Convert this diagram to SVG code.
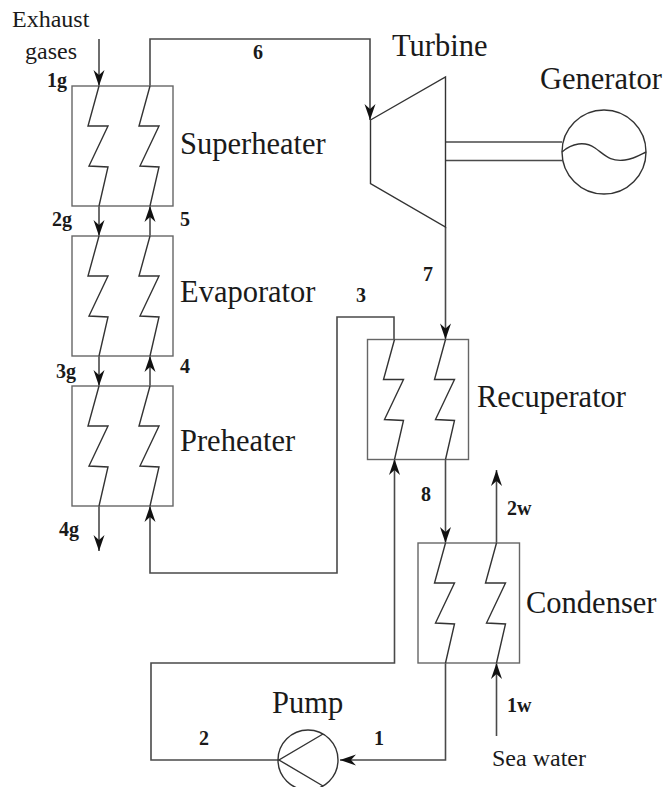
<svg xmlns="http://www.w3.org/2000/svg" width="666" height="787" viewBox="0 0 666 787">
<style>
.bg{fill:#fff}
.box{fill:none;stroke:#666;stroke-width:1.4}
.zig,.eq{fill:none;stroke:#333;stroke-width:1.4;stroke-linejoin:miter}
.pipe{fill:none;stroke:#4a4a4a;stroke-width:1.6}
.arr{marker-end:url(#ah)}
text{font-family:"Liberation Serif","Times New Roman",serif;fill:#1a1a1a}
.name{font-size:30.500px}
.small{font-size:24px}
.lab{font-size:20px;font-weight:bold}
</style>
<defs>
<marker id="ah" markerUnits="userSpaceOnUse" markerWidth="20" markerHeight="16" refX="16" refY="8" orient="auto" overflow="visible">
<path d="M16,8 L0,2.500 L5,8 L0,13.500 Z" fill="#111"/>
</marker>
<path id="zigzag" d="M0,0 L-11,40 L9,40 L-10,80 L9,81 L0,120"/>
</defs>
<rect class="bg" width="666" height="787"/>

<g id="connectors">
<path class="pipe arr" d="M99,39 V86"/>
<path class="pipe arr" d="M150,86 V39 H370 V120"/>
<path class="pipe arr" d="M99,206 V236"/>
<path class="pipe arr" d="M150,236 V206"/>
<path class="pipe arr" d="M99,356 V386"/>
<path class="pipe arr" d="M150,386 V356"/>
<path class="pipe arr" d="M99,506 V551"/>
<path class="pipe arr" d="M394,339.5 V317 H337 V573 H150 V506"/>
<path class="pipe arr" d="M445.5,227 V339.5"/>
<path class="pipe arr" d="M445.5,459 V543"/>
<path class="pipe arr" d="M445.5,663 V760 H340"/>
<path class="pipe arr" d="M279,760 H151 V663 H394.500 V459"/>
<path class="pipe arr" d="M496.500,543 V470"/>
<path class="pipe arr" d="M496.500,736 V663"/>
<path class="pipe" d="M446,142 H562 M446,160.500 H562"/>
</g>

<g id="superheater">
<rect class="box" x="72" y="86" width="101" height="120"/>
<use href="#zigzag" class="zig" x="99" y="86"/>
<use href="#zigzag" class="zig" x="150" y="86"/>
<text class="name" x="180" y="154">Superheater</text>
</g>
<g id="evaporator">
<rect class="box" x="72" y="236" width="101" height="120"/>
<use href="#zigzag" class="zig" x="99" y="236"/>
<use href="#zigzag" class="zig" x="150" y="236"/>
<text class="name" x="180" y="302">Evaporator</text>
</g>
<g id="preheater">
<rect class="box" x="72" y="386" width="101" height="120"/>
<use href="#zigzag" class="zig" x="99" y="386"/>
<use href="#zigzag" class="zig" x="150" y="386"/>
<text class="name" x="180" y="451">Preheater</text>
</g>
<g id="recuperator">
<rect class="box" x="367.500" y="339.500" width="101" height="120"/>
<use href="#zigzag" class="zig" x="394.500" y="339.500"/>
<use href="#zigzag" class="zig" x="445.500" y="339.500"/>
<text class="name" x="477" y="407">Recuperator</text>
</g>
<g id="condenser">
<rect class="box" x="418" y="543" width="101.500" height="120"/>
<use href="#zigzag" class="zig" x="445.500" y="543"/>
<use href="#zigzag" class="zig" x="496.500" y="543"/>
<text class="name" x="526" y="613">Condenser</text>
</g>
<g id="turbine">
<path class="eq" d="M370.500,120 L445.500,77 V227 L370.500,183.500 Z"/>
<text class="name" x="392" y="56">Turbine</text>
</g>
<g id="generator">
<circle class="eq" cx="604" cy="152" r="42"/>
<path class="eq" d="M562,152 C572,143 585,141 595,148 C605,155 610,162 625,160 C634,159 640,155 646,152"/>
<text class="name" x="540" y="89">Generator</text>
</g>
<g id="pump">
<circle class="eq" cx="308" cy="760" r="30"/>
<path class="eq" d="M323,734 L279,760 L323,786"/>
<text class="name" x="272" y="713">Pump</text>
</g>

<g id="labels">
<text class="small" x="12" y="27">Exhaust</text>
<text class="small" x="25" y="59">gases</text>
<text class="small" x="492" y="766">Sea water</text>
<text class="lab" x="47" y="87">1g</text>
<text class="lab" x="52" y="226">2g</text>
<text class="lab" x="56" y="378">3g</text>
<text class="lab" x="59" y="536">4g</text>
<text class="lab" x="253" y="59">6</text>
<text class="lab" x="180" y="226">5</text>
<text class="lab" x="180" y="373">4</text>
<text class="lab" x="356" y="302">3</text>
<text class="lab" x="423" y="281">7</text>
<text class="lab" x="421" y="501">8</text>
<text class="lab" x="507" y="515">2w</text>
<text class="lab" x="507" y="712">1w</text>
<text class="lab" x="199" y="745">2</text>
<text class="lab" x="374" y="745">1</text>
</g>
</svg>
